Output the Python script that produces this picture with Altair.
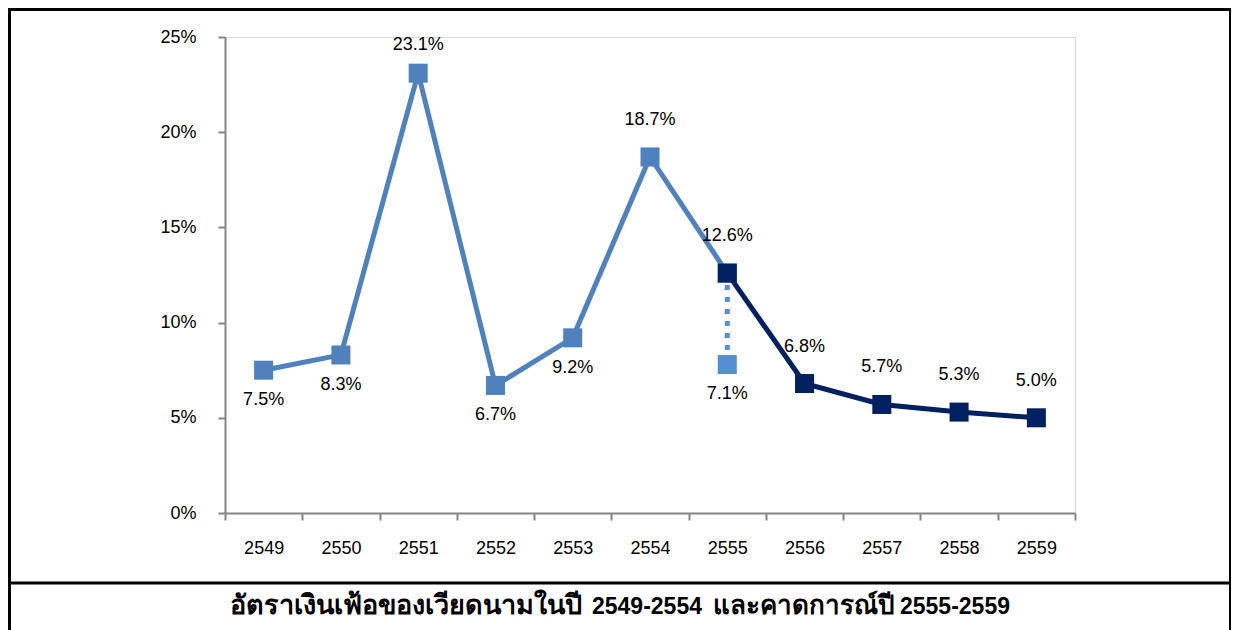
import altair as alt
import pandas as pd

years = ["2549", "2550", "2551", "2552", "2553", "2554", "2555", "2556", "2557", "2558", "2559"]

actual_years = ["2549", "2550", "2551", "2552", "2553", "2554", "2555"]
actual_vals = [7.5, 8.3, 23.1, 6.7, 9.2, 18.7, 12.6]
actual_labels = ["7.5%", "8.3%", "23.1%", "6.7%", "9.2%", "18.7%", "12.6%"]
actual_place = ["below", "below", "top", "below", "below", "above", "above"]

forecast_years = ["2555", "2556", "2557", "2558", "2559"]
forecast_vals = [12.6, 6.8, 5.7, 5.3, 5.0]
forecast_labels = ["", "6.8%", "5.7%", "5.3%", "5.0%"]
forecast_place = ["above", "above", "above", "above", "above"]

alt_year = ["2555"]
alt_from = [12.6]
alt_vals = [7.8]
alt_labels = ["7.1%"]
alt_place = ["below"]

caption_parts = ["อัตราเงินเฟ้อของเวียดนามในปี", "2549-2554", "และคาดการณ์ปี", "2555-2559"]

FONT = "Liberation Sans, Arial, Noto Sans, DejaVu Sans, sans-serif"
NARROW = "Liberation Sans Narrow, Arial Narrow, Liberation Sans, sans-serif"
BLUE = "#4F81BD"
NAVY = "#002060"
LIGHT = "#558ED5"

actual_df = pd.DataFrame({"year": actual_years, "v": actual_vals, "label": actual_labels, "place": actual_place})
fc_df = pd.DataFrame({"year": forecast_years, "v": forecast_vals, "label": forecast_labels, "place": forecast_place})
alt_df = pd.DataFrame({"year": alt_year, "v0": alt_from, "v": alt_vals, "label": alt_labels, "place": alt_place})

xs = alt.X("year:N", sort=years, scale=alt.Scale(domain=years, paddingInner=0, paddingOuter=0),
           axis=alt.Axis(title=None, labelAngle=0, labelFontSize=18, labelFont=NARROW, labelColor="black",
                         domainColor="#868686", domainWidth=2, tickColor="#868686", tickWidth=2,
                         tickSize=7, tickBand="extent", labelPadding=19, grid=False))
ys = alt.Y("v:Q", scale=alt.Scale(domain=[0, 25], nice=False),
           axis=alt.Axis(title=None, values=[0, 5, 10, 15, 20, 25], labelExpr="datum.value + '%'",
                         labelFontSize=18, labelFont=FONT, labelColor="black",
                         domainColor="#868686", domainWidth=2, tickColor="#868686", tickWidth=2,
                         tickSize=7, labelPadding=22, grid=False))

base_a = alt.Chart(actual_df)
a_line = base_a.mark_line(color=BLUE, strokeWidth=5).encode(x=xs, y=ys)
a_pts = base_a.mark_point(shape="square", filled=True, size=361, color=BLUE, opacity=1).encode(x=xs, y=ys)

base_alt = alt.Chart(alt_df)
dot_rule = base_alt.mark_rule(color=LIGHT, strokeWidth=5, strokeDash=[5, 7]).encode(
    x=xs, y=alt.Y("v0:Q"), y2="v:Q")
alt_pt = base_alt.mark_point(shape="square", filled=True, size=361, color=LIGHT, opacity=1).encode(x=xs, y=ys)

base_f = alt.Chart(fc_df)
f_line = base_f.mark_line(color=NAVY, strokeWidth=5).encode(x=xs, y=ys)
f_pts = base_f.mark_point(shape="square", filled=True, size=361, color=NAVY, opacity=1).encode(x=xs, y=ys)


def labels(base):
    out = []
    for place, dy in [("above", -37), ("top", -28), ("below", 30)]:
        out.append(base.transform_filter(alt.datum.place == place).mark_text(
            font=FONT, fontSize=18, color="black", dy=dy, baseline="middle", align="center"
        ).encode(x=xs, y=ys, text="label:N"))
    return out


lbls = labels(base_a) + labels(base_f) + labels(base_alt)

dummy = alt.Chart(alt.Data(values=[{"a": 1}]))
frame = [
    dummy.mark_rule(color="black", strokeWidth=3).encode(x=alt.value(-215.5), x2=alt.value(1004.5), y=alt.value(-27.5)),
    dummy.mark_rule(color="black", strokeWidth=3).encode(x=alt.value(-215.5), y=alt.value(-29), y2=alt.value(600)),
    dummy.mark_rule(color="black", strokeWidth=2).encode(x=alt.value(1005), y=alt.value(-29), y2=alt.value(600)),
    dummy.mark_rule(color="black", strokeWidth=3).encode(x=alt.value(-215.5), x2=alt.value(1004.5), y=alt.value(546)),
]
cap_x = [5, 367, 488, 675]
cap_size = [27, 23, 26, 23]
for txt, cx, fs in zip(caption_parts, cap_x, cap_size):
    frame.append(dummy.mark_text(font=FONT, fontSize=fs, fontWeight="bold", color="black",
                                 baseline="alphabetic", align="left").encode(
        x=alt.value(cx), y=alt.value(577), text=alt.value(txt)))

chart = alt.layer(a_line, a_pts, dot_rule, alt_pt, f_line, f_pts, *lbls, *frame).properties(
    width=850, height=476,
    autosize=alt.AutoSizeParams(type="none"),
    padding={"left": 217, "top": 29, "right": 156, "bottom": 117},
).configure_view(stroke=None).configure(background="white")

chart.save("out.html", embed_options={"renderer": "svg", "actions": False})
